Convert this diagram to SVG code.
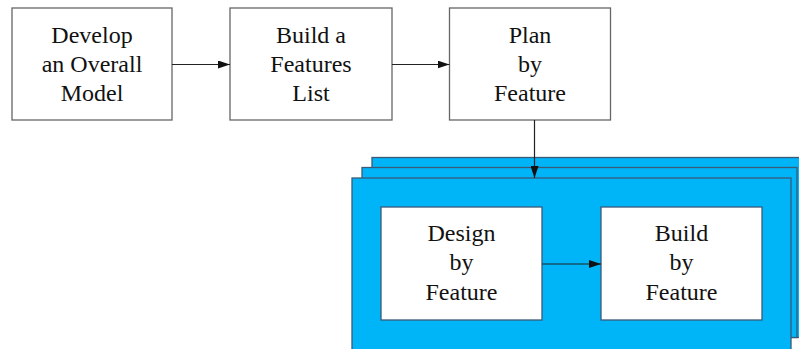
<svg xmlns="http://www.w3.org/2000/svg" width="799" height="349" viewBox="0 0 799 349">
<style>
.box{fill:#fff;stroke:#666;stroke-width:1.3}
.ibox{fill:#fff;stroke:#3a5a78;stroke-width:1.3}
.stack{fill:#00b4f8;stroke:#3a5a78;stroke-width:1.3}
.t{font-family:'Liberation Serif','DejaVu Serif',serif;font-size:24px;fill:#111;text-anchor:middle}
.c{stroke:#222;stroke-width:1.2;fill:none}
</style>
<defs>
<marker id="ah" markerWidth="12" markerHeight="8" refX="12" refY="4" orient="auto" markerUnits="userSpaceOnUse">
<path d="M0,0 L12,4 L0,8 Z" fill="#111"/>
</marker>
</defs>
<g id="stack">
<rect class="stack" x="372" y="157.5" width="440" height="180"/>
<rect class="stack" x="362" y="167.5" width="435" height="170"/>
<rect class="stack" x="352" y="178" width="439" height="190"/>
</g>
<g id="n1" font-family="Liberation Serif, serif">
<rect class="box" x="12" y="8" width="160" height="112"/>
<text class="t" x="92" y="43">Develop</text>
<text class="t" x="92" y="72">an Overall</text>
<text class="t" x="92" y="101">Model</text>
</g>
<g id="n2">
<rect class="box" x="230" y="8" width="162" height="112"/>
<text class="t" x="311" y="43">Build a</text>
<text class="t" x="311" y="72">Features</text>
<text class="t" x="311" y="101">List</text>
</g>
<g id="n3">
<rect class="box" x="449.5" y="8" width="161" height="112"/>
<text class="t" x="530" y="43">Plan</text>
<text class="t" x="530" y="72">by</text>
<text class="t" x="530" y="101">Feature</text>
</g>
<g id="n4">
<rect class="ibox" x="381" y="207" width="161" height="113"/>
<text class="t" x="461.5" y="241">Design</text>
<text class="t" x="461.5" y="270">by</text>
<text class="t" x="461.5" y="300">Feature</text>
</g>
<g id="n5">
<rect class="ibox" x="601" y="207" width="161" height="113"/>
<text class="t" x="681.5" y="241">Build</text>
<text class="t" x="681.5" y="270">by</text>
<text class="t" x="681.5" y="300">Feature</text>
</g>
<g id="connectors">
<line class="c" x1="172" y1="64.5" x2="230" y2="64.5" marker-end="url(#ah)"/>
<line class="c" x1="392" y1="64.5" x2="449.5" y2="64.5" marker-end="url(#ah)"/>
<line class="c" x1="534.5" y1="120" x2="534.5" y2="178" marker-end="url(#ah)"/>
<line class="c" x1="542" y1="264" x2="601" y2="264" marker-end="url(#ah)"/>
</g>
</svg>
